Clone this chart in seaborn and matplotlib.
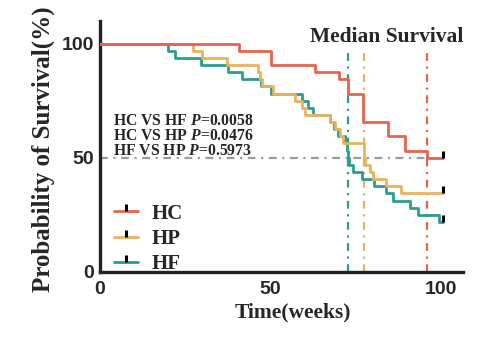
import matplotlib
matplotlib.use("Agg")
import matplotlib.pyplot as plt
from matplotlib.lines import Line2D
import seaborn as sns
import pandas as pd

# ---------------- data ----------------
groups = ["HC", "HP", "HF"]

hc_time = [0, 40.8, 50.3, 63.2, 70.0, 72.6, 77.2, 84.5, 89.5, 95.8, 100.7]
hc_surv = [100, 96.9, 90.6, 87.5, 84.4, 78.1, 65.6, 59.4, 53.1, 50.0, 50.0]

hp_time = [0, 27.2, 29.8, 37.3, 46.4, 46.9, 47.6, 50.8, 57.2, 59.3, 60.1,
           67.4, 68.9, 70.4, 71.3, 77.3, 77.8, 79.2, 80.2, 84.0, 88.4, 100.7]
hp_surv = [100, 96.9, 93.8, 90.6, 87.5, 84.4, 81.3, 78.1, 75.0, 71.9, 68.8,
           65.6, 62.5, 59.4, 56.3, 50.0, 46.9, 43.8, 40.6, 37.5, 34.4, 34.4]

hf_time = [0, 20.0, 22.0, 29.5, 37.5, 41.6, 47.3, 50.3, 59.3, 61.1, 62.6,
           67.4, 68.6, 69.9, 71.8, 72.3, 72.6, 72.9, 74.3, 76.8, 80.4, 84.0,
           86.0, 90.9, 93.4, 99.4, 100.7]
hf_surv = [100, 96.9, 93.8, 90.6, 87.5, 84.4, 81.3, 78.1, 75.0, 71.9, 68.8,
           65.6, 62.5, 59.4, 56.3, 53.1, 50.0, 46.9, 43.8, 40.6, 37.5, 34.4,
           31.3, 28.1, 25.0, 21.9, 21.9]

median_times = {"HF": 72.6, "HP": 77.3, "HC": 95.8}
median_level = 50

pvalue_lines = [("HC VS HF ", "0.0058"), ("HC VS HP ", "0.0476"), ("HF VS HP ", "0.5973")]
x_ticks = [0, 50, 100]
y_ticks = [0, 50, 100]

colors = {"HC": "#E5644E", "HP": "#E6B35E", "HF": "#2A9D8F"}

# ---------------- style ----------------
sns.set_style("white")
plt.rcParams["mathtext.fontset"] = "custom"
plt.rcParams["mathtext.it"] = "Liberation Serif:italic:bold"
plt.rcParams["mathtext.rm"] = "Liberation Serif:bold"
serif = {"family": "Liberation Serif", "weight": "bold"}
sans = {"family": "Liberation Sans", "weight": "bold"}

frames = []
for g, t, s in [("HC", hc_time, hc_surv), ("HP", hp_time, hp_surv), ("HF", hf_time, hf_surv)]:
    frames.append(pd.DataFrame({"time": t, "surv": s, "group": g}))
df = pd.concat(frames, ignore_index=True)

fig = plt.figure(figsize=(4.85, 3.37), dpi=100)
ax = fig.add_axes([0.206, 0.193, 0.749, 0.745])

# median reference lines
ax.axhline(median_level, xmin=0, xmax=median_times["HC"] / 106.5, color="#9B9B9B",
           lw=1.6, linestyle=(0, (3.5, 2.5, 1, 2.5)), zorder=1)
for g in ["HF", "HP", "HC"]:
    ax.axvline(median_times[g], ymin=0, ymax=98 / 110, color=colors[g], lw=1.6,
               linestyle=(0, (3.5, 2.5, 1, 2.5)), zorder=1)

for g in ["HF", "HP", "HC"]:
    sub = df[df.group == g]
    sns.lineplot(data=sub, x="time", y="surv", ax=ax, color=colors[g],
                 drawstyle="steps-post", estimator=None, sort=False, lw=2.0,
                 zorder=3, legend=False)
    ax.plot(sub.time.iloc[-1], sub.surv.iloc[-1], marker=2, color="black",
            markersize=5, mew=2.2, zorder=4, linestyle="none")

ax.set_xlim(0, 106.5)
ax.set_ylim(0, 110)
ax.set_xticks(x_ticks)
ax.set_yticks(y_ticks)
ax.set_xticklabels([str(v) for v in x_ticks], fontdict=dict(sans, size=14))
ax.set_yticklabels([str(v) for v in y_ticks], fontdict=dict(sans, size=14))
ax.tick_params(axis="both", direction="out", length=4, width=2, color="#222222")
ax.tick_params(axis="y", pad=0.5)
ax.tick_params(axis="x", pad=2.5)
for side in ["top", "right"]:
    ax.spines[side].set_visible(False)
for side in ["left", "bottom"]:
    ax.spines[side].set_linewidth(2.4)
    ax.spines[side].set_color("#222222")

ax.set_xlabel("Time(weeks)", fontdict=dict(serif, size=15.5))
ax.set_ylabel("Probability of Survival(%)", fontdict=dict(serif, size=18))
ax.xaxis.set_label_coords(0.53, -0.12)
ax.yaxis.set_label_coords(-0.125, 0.49)

ax.text(84.1, 103, "Median Survival", ha="center", va="center", fontdict=dict(serif, size=15.5))

for i, (lab, p) in enumerate(pvalue_lines):
    ax.text(3.7, 64.3 - 6.6 * i, lab + r"$P$" + "=" + p, ha="left", va="baseline",
            fontdict=dict(serif, size=11.3))

handles = [Line2D([0], [0], color=colors[g], lw=2.0, marker=2, markersize=5,
                  markeredgecolor="black", markerfacecolor="black", mew=2.2)
           for g in groups]
leg = ax.legend(handles, groups, loc="upper left", bbox_to_anchor=(0.0, 0.33),
                frameon=False, prop=dict(serif, size=15), handlelength=1.15,
                handletextpad=0.65, labelspacing=0.25, numpoints=1, borderaxespad=0.3)

fig.savefig("out.png", dpi=100)
